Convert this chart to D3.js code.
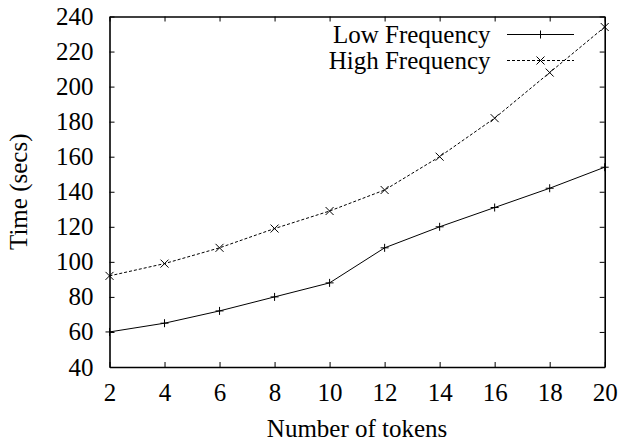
<!DOCTYPE html>
<html>
<head>
<meta charset="utf-8">
<script src="https://cdn.jsdelivr.net/npm/d3@7"></script>
<style>
  body { margin: 0; background: #fff; }
  text { font-family: "Liberation Serif", "Times New Roman", serif; fill: #000; }
  .domain { stroke: #000; stroke-width: 1.6; }
  .tick line { stroke: #000; stroke-width: 1; }
</style>
</head>
<body>
<div class="chart"></div>
<script>
const tokens = [2, 4, 6, 8, 10, 12, 14, 16, 18, 20];
const lowFreq = [60, 65, 72, 80, 88, 108, 120, 131, 142, 154];
const highFreq = [92, 99, 108, 119, 129, 141, 160, 182, 208, 234];
const xTicks = [2, 4, 6, 8, 10, 12, 14, 16, 18, 20];
const yTicks = [40, 60, 80, 100, 120, 140, 160, 180, 200, 220, 240];
const seriesNames = ['Low Frequency', 'High Frequency'];

const margin = {top:16.5, left:109.5, bottom:75, right:13.3};
const width = 618 - margin.left - margin.right;
const height = 442 - margin.top - margin.bottom;

const svg = d3.select('.chart')
    .append('svg')
    .attr('width', width + margin.left + margin.right)
    .attr('height', height + margin.top + margin.bottom)
    .append('g')
    .attr('transform', 'translate('+margin.left+','+margin.top+')');

const xScale = d3.scaleLinear()
    .domain([2, 20])
    .range([0, width]);

const yScale = d3.scaleLinear()
    .domain([40, 240])
    .range([height, 0]);

// ticks point inward on all four sides, gnuplot style
svg.append('g')
    .attr('class', 'x-axis')
    .attr('transform', `translate(0, ${height})`)
    .call(d3.axisBottom(xScale).tickValues(xTicks).tickSizeInner(-5).tickSizeOuter(0).tickPadding(16));

svg.append('g')
    .attr('class', 'y-axis')
    .call(d3.axisLeft(yScale).tickValues(yTicks).tickSizeInner(-5).tickSizeOuter(0).tickPadding(16));

svg.append('g')
    .call(d3.axisTop(xScale).tickValues(xTicks).tickSizeInner(-5).tickSizeOuter(0).tickFormat(''));

svg.append('g')
    .attr('transform', `translate(${width}, 0)`)
    .call(d3.axisRight(yScale).tickValues(yTicks).tickSizeInner(-5).tickSizeOuter(0).tickFormat(''));

svg.selectAll('.x-axis text, .y-axis text')
    .attr('font-size', 25)
    .attr('font-family', '"Liberation Serif", serif');

svg.append('text')
    .attr('x', width/2)
    .attr('y', height+70)
    .attr('text-anchor', 'middle')
    .attr('font-size', 25)
    .text('Number of tokens');

svg.append('text')
    .attr('transform', 'rotate(-90)')
    .attr('x', -height/2)
    .attr('y', -83)
    .attr('text-anchor', 'middle')
    .attr('font-size', 25)
    .text('Time (secs)');

const line = d3.line()
    .x((d,i) => xScale(tokens[i]))
    .y(d => yScale(d));

function plus(g, size) {
    g.append('path').attr('d', `M${-size},0H${size}M0,${-size}V${size}`);
}
function cross(g, size) {
    g.append('path').attr('d', `M${-size},${-size}L${size},${size}M${-size},${size}L${size},${-size}`);
}

const series = [
    {name: seriesNames[0], values: lowFreq, dash: null, marker: plus},
    {name: seriesNames[1], values: highFreq, dash: '3,2', marker: cross}
];

series.forEach((s, k) => {
    svg.append('path')
        .datum(s.values)
        .attr('fill', 'none')
        .attr('stroke', '#000')
        .attr('stroke-width', 1)
        .attr('stroke-dasharray', s.dash)
        .attr('d', line);

    svg.selectAll('.pt'+k)
        .data(s.values)
        .enter()
        .append('g')
        .attr('class', 'pt'+k)
        .attr('stroke', '#000')
        .attr('stroke-width', 1)
        .attr('transform', (d,i) => `translate(${xScale(tokens[i])},${yScale(d)})`)
        .each(function(){ s.marker(d3.select(this), 4); });

    // legend
    const ly = 18 + k*26;
    svg.append('text')
        .attr('x', 381)
        .attr('y', ly)
        .attr('dy', '0.32em')
        .attr('text-anchor', 'end')
        .attr('font-size', 25)
        .text(s.name);
    svg.append('line')
        .attr('x1', 397.5).attr('x2', 464.5)
        .attr('y1', ly).attr('y2', ly)
        .attr('stroke', '#000')
        .attr('stroke-width', 1)
        .attr('stroke-dasharray', s.dash);
    const m = svg.append('g')
        .attr('stroke', '#000')
        .attr('transform', `translate(431,${ly})`);
    s.marker(m, 4);
});
</script>
</body>
</html>
